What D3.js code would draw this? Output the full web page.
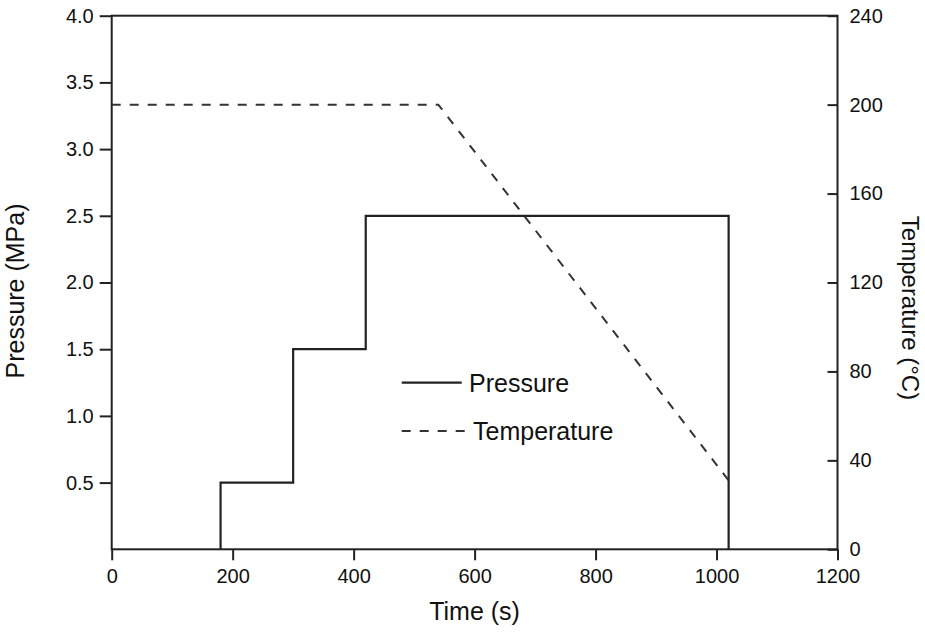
<!DOCTYPE html>
<html><head><meta charset="utf-8">
<script src="https://d3js.org/d3.v7.min.js"></script>
<style>
body{margin:0;background:#fff;}
text{font-family:"Liberation Sans",Arial,sans-serif;fill:#111;}
</style></head>
<body><svg id="c" width="925" height="635"></svg>
<script>
const pressureTime = [180, 180, 300, 300, 420, 420, 1020, 1020];
const pressureValues = [0, 0.5, 0.5, 1.5, 1.5, 2.5, 2.5, 0];
const temperatureTime = [0, 540, 1020];
const temperatureValues = [200, 200, 31];
const xTicks = [0, 200, 400, 600, 800, 1000, 1200];
const pressureTicks = [0.5, 1.0, 1.5, 2.0, 2.5, 3.0, 3.5, 4.0];
const temperatureTicks = [0, 40, 80, 120, 160, 200, 240];
const legendLabels = ["Pressure", "Temperature"];

const svg = d3.select("#c");
const L = 111.7, R = 837.5, T = 15.7, B = 549.3;
const x = d3.scaleLinear().domain([0, 1200]).range([L, R]);
const yP = d3.scaleLinear().domain([0, 4]).range([B, T]);
const yT = d3.scaleLinear().domain([0, 240]).range([B, T]);
const ink = "#222";

svg.append("rect").attr("x", L).attr("y", T).attr("width", R - L).attr("height", B - T)
  .attr("fill", "none").attr("stroke", ink).attr("stroke-width", 2);

function styleAxis(g, fs) {
  g.select(".domain").remove();
  g.selectAll(".tick line").attr("stroke", ink).attr("stroke-width", 2);
  g.selectAll(".tick text").attr("font-size", fs).style("font-family", '"Liberation Sans",Arial,sans-serif').attr("fill", "#111");
}

const gx = svg.append("g").attr("transform", `translate(0,${B})`)
  .call(d3.axisBottom(x).tickValues(xTicks).tickFormat(d3.format("d")).tickSizeOuter(0).tickSize(11).tickPadding(9));
styleAxis(gx, 20);

const gl = svg.append("g").attr("transform", `translate(${L},0)`)
  .call(d3.axisLeft(yP).tickValues(pressureTicks).tickFormat(d3.format(".1f")).tickSizeOuter(0).tickSize(12).tickPadding(6));
styleAxis(gl, 20);

const gr = svg.append("g").attr("transform", `translate(${R},0)`)
  .call(d3.axisRight(yT).tickValues(temperatureTicks).tickFormat(d3.format("d")).tickSizeOuter(0).tickSize(-10).tickPadding(12));
styleAxis(gr, 20);

const pData = pressureTime.map((t, i) => [t, pressureValues[i]]);
const tData = temperatureTime.map((t, i) => [t, temperatureValues[i]]);
svg.append("path").datum(pData)
  .attr("d", d3.line().x(d => x(d[0])).y(d => yP(d[1])))
  .attr("fill", "none").attr("stroke", ink).attr("stroke-width", 2.2);
svg.append("path").datum(tData)
  .attr("d", d3.line().x(d => x(d[0])).y(d => yT(d[1])))
  .attr("fill", "none").attr("stroke", "#333").attr("stroke-width", 2).attr("stroke-dasharray", "9,9");

const lg = svg.append("g");
lg.append("line").attr("x1", 401.7).attr("x2", 461.7).attr("y1", 382.7).attr("y2", 382.7)
  .attr("stroke", ink).attr("stroke-width", 2.2);
lg.append("text").attr("x", 469).attr("y", 391.5).attr("font-size", 25).text(legendLabels[0]);
lg.append("line").attr("x1", 401.7).attr("x2", 465).attr("y1", 431).attr("y2", 431)
  .attr("stroke", "#333").attr("stroke-width", 2).attr("stroke-dasharray", "9,9");
lg.append("text").attr("x", 473).attr("y", 440).attr("font-size", 25).text(legendLabels[1]);

svg.append("text").attr("x", (L + R) / 2).attr("y", 620).attr("text-anchor", "middle")
  .attr("font-size", 25).text("Time (s)");
svg.append("text").attr("transform", "translate(24,291) rotate(-90)").attr("text-anchor", "middle")
  .attr("font-size", 25).text("Pressure (MPa)");
svg.append("text").attr("transform", "translate(902,308) rotate(90)").attr("text-anchor", "middle")
  .attr("font-size", 24).text("Temperature (°C)");
</script></body></html>
